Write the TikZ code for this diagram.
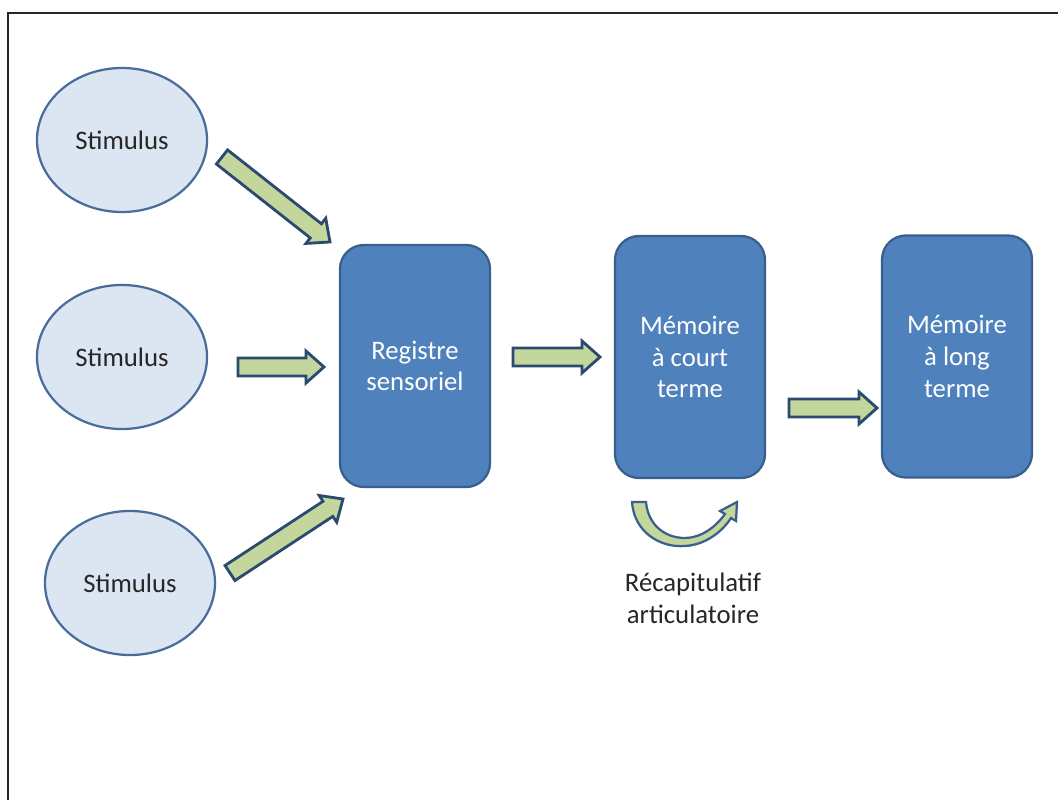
\documentclass[tikz,border=0pt]{standalone}
\usepackage{fontspec}
\setmainfont{Carlito}
\usetikzlibrary{shapes.geometric,calc}

\definecolor{stimfill}{HTML}{DCE6F2}
\definecolor{stimline}{HTML}{4A6C9B}
\definecolor{boxfill}{HTML}{4F81BD}
\definecolor{boxline}{HTML}{3A5F8C}
\definecolor{arrfill}{HTML}{C3D69B}
\definecolor{arrline}{HTML}{2B4A70}
\definecolor{txt}{HTML}{262626}

\tikzset{
  lbl/.style={font=\fontsize{19}{22.5}\selectfont},
  stim/.style={lbl, ellipse, draw=stimline, fill=stimfill, line width=1.6pt,
    minimum width=4.25cm, minimum height=3.6cm, text=txt},
  store/.style={lbl, rectangle, rounded corners=0.6cm, draw=boxline, fill=boxfill,
    line width=1.6pt, minimum width=3.75cm, minimum height=6.05cm,
    text=white, align=center},
  barrow/.style={draw=arrline, fill=arrfill, line width=2pt, line join=miter},
  frame/.style={draw=black!85, line width=1.5pt},
}

% straight block arrow from #2 (tail) to #3 (tip); #1 names its neck point
\newcommand\blockarrow[3]{%
  \coordinate (#1n) at ($(#3)!0.45cm!(#2)$);
  \draw[barrow] ($(#2)!0.225cm!90:(#3)$) -- ($(#1n)!0.225cm!90:(#3)$)
    -- ($(#1n)!0.4cm!90:(#3)$) -- (#3) -- ($(#1n)!0.4cm!-90:(#3)$)
    -- ($(#1n)!0.225cm!-90:(#3)$) -- ($(#2)!0.225cm!-90:(#3)$) -- cycle;
}

\begin{document}
\begin{tikzpicture}[x=0.025cm, y=-0.025cm]
  \useasboundingbox (0,0) rectangle (1058,800);
  \draw[frame] (8,800) -- (8,13) -- (1058,13);

  % stimuli
  \node[stim] (s1) at (122,140) {Stimulus};
  \node[stim] (s2) at (122,357) {Stimulus};
  \node[stim] (s3) at (130,583) {Stimulus};

  % memory stores
  \node[store] (reg) at (415,366) {Registre\\sensoriel};
  \node[store] (mct) at (690,357) {Mémoire\\à court\\terme};
  \node[store] (mlt) at (957,356.5) {Mémoire\\à long\\terme};

  % arrow end points
  \coordinate (a1t) at (222,157);  \coordinate (a1h) at (330,242);
  \coordinate (a2t) at (238,367);  \coordinate (a2h) at (324,367);
  \coordinate (a3t) at (230,573);  \coordinate (a3h) at (343,499);
  \coordinate (a4t) at (513,357);  \coordinate (a4h) at (600,357);
  \coordinate (a5t) at (789,408);  \coordinate (a5h) at (877,408);

  \blockarrow{a1}{a1t}{a1h}
  \blockarrow{a2}{a2t}{a2h}
  \blockarrow{a3}{a3t}{a3h}
  \blockarrow{a4}{a4t}{a4h}
  \blockarrow{a5}{a5t}{a5h}

  % rehearsal loop under the short-term store
  \draw[draw=boxline, fill=arrfill, line width=1.6pt, line join=miter]
    (632,502) .. controls (634,532) and (660,548) .. (685,546)
    .. controls (705,545) and (722,532) .. (731,518)
    -- (736,521) -- (737,502) -- (720,511) -- (725,514)
    .. controls (715,528) and (700,538) .. (685,538)
    .. controls (665,538) and (648,525) .. (646,502) -- cycle;

  \node[lbl, text=txt, align=center] (rec) at (693,598)
    {Récapitulatif\\articulatoire};
\end{tikzpicture}
\end{document}
